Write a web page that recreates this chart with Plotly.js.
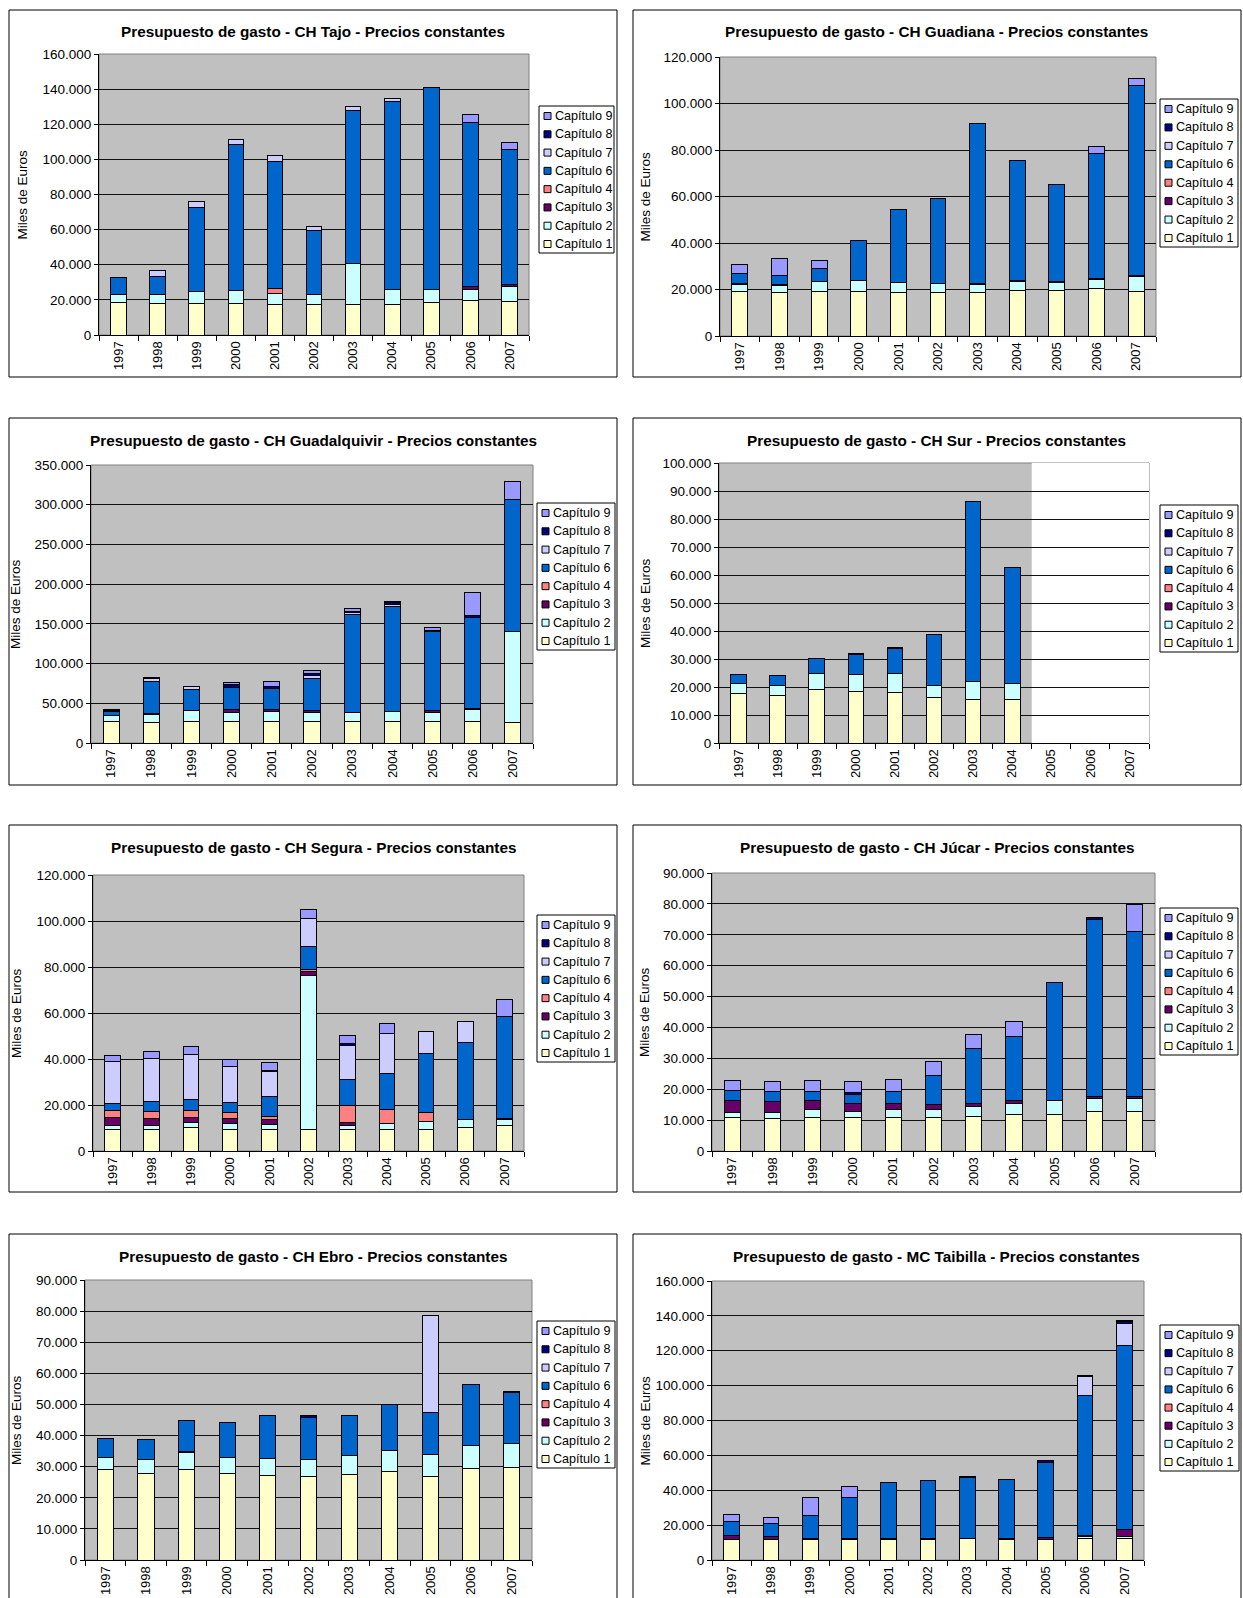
<!DOCTYPE html>
<html>
<head>
<meta charset="utf-8">
<script src="https://cdn.plot.ly/plotly-3.0.1.min.js"></script>
<style>
html,body{margin:0;padding:0;background:#fff;}
#chart{width:1243px;height:1598px;}
</style>
</head>
<body>
<div id="chart"></div>
<script>
// ---------------- DATA (Miles de Euros) ----------------
const years = ['1997','1998','1999','2000','2001','2002','2003','2004','2005','2006','2007'];
const chapters = ['Capítulo 1','Capítulo 2','Capítulo 3','Capítulo 4','Capítulo 6','Capítulo 7','Capítulo 8','Capítulo 9'];
const chapterColors = ['#FFFFCC','#CCFFFF','#660066','#FF8080','#0066CC','#CCCCFF','#000080','#9999FF'];

const titles = [
  'Presupuesto de gasto - CH Tajo - Precios constantes',
  'Presupuesto de gasto - CH Guadiana - Precios constantes',
  'Presupuesto de gasto - CH Guadalquivir - Precios constantes',
  'Presupuesto de gasto - CH Sur - Precios constantes',
  'Presupuesto de gasto - CH Segura - Precios constantes',
  'Presupuesto de gasto - CH Júcar - Precios constantes',
  'Presupuesto de gasto - CH Ebro - Precios constantes',
  'Presupuesto de gasto - MC Taibilla - Precios constantes'
];
const yAxisTitle = 'Miles de Euros';

// rows: Cap1, Cap2, Cap3, Cap4, Cap6, Cap7, Cap8, Cap9
const tajo = [
  [18600,18050,18050,18000,17500,17500,17500,17500,18600,19760,19000],
  [4200,4750,7000,7100,6250,5300,23350,8150,7050,6270,8550],
  [0,0,0,0,0,0,0,0,0,1500,950],
  [0,0,0,0,2850,0,0,0,0,0,0],
  [10200,10450,47700,83600,72400,36500,86800,107350,115150,93500,77000],
  [0,3200,3200,2600,3000,2600,2300,1900,0,0,0],
  [0,0,0,0,0,0,0,0,0,0,0],
  [0,0,0,0,0,0,0,0,0,4800,4200]
];
const guadiana = [
  [19000,18700,19000,19000,18700,18700,18700,19700,19700,20400,19000],
  [3150,2850,4300,4700,4200,3850,3400,3600,3150,3900,6400],
  [400,550,0,0,0,0,400,500,500,600,600],
  [0,0,0,0,0,0,0,0,0,0,0],
  [4400,4050,5700,17500,31700,36650,68750,51900,41950,53400,81800],
  [0,0,0,0,0,0,0,0,0,0,0],
  [0,0,0,0,0,0,0,0,0,0,0],
  [4000,7150,3600,0,0,0,0,0,0,3300,3100]
];
const guadalquivir = [
  [27700,26400,27700,27700,27700,27700,27700,27700,27700,27700,25200],
  [6700,9300,13000,11300,12200,10900,10500,12200,11300,14300,115800],
  [0,1200,0,3400,2900,2900,0,0,2500,1600,0],
  [0,0,0,0,0,0,0,0,0,0,0],
  [5500,40700,26500,28100,26400,39100,123400,132200,99100,114600,166200],
  [0,3000,4100,0,0,4200,2500,2900,0,0,0],
  [700,0,0,2900,2100,2100,1700,2100,1300,1700,0],
  [2200,2100,0,3000,6300,4600,3300,1300,2900,30200,22300]
];
const sur = [
  [17700,17000,19000,18450,18100,16100,15700,15700,null,null,null],
  [3700,3600,5900,6050,6700,4400,6400,5700,null,null,null],
  [0,0,0,0,0,0,0,0,null,null,null],
  [0,0,0,0,0,0,0,0,null,null,null],
  [3200,3400,5200,7000,8800,18200,64000,41300,null,null,null],
  [0,0,0,0,0,0,0,0,null,null,null],
  [0,0,0,500,450,0,0,0,null,null,null],
  [0,0,0,0,0,0,0,0,null,null,null]
];
const segura = [
  [9560,9560,10100,9560,9560,9560,9560,9560,9560,10400,10900],
  [1450,1600,2200,2440,2040,66900,1740,2200,3200,3100,2600],
  [3500,3000,2300,2200,1900,1500,1000,0,0,0,700],
  [3000,2900,3200,2500,1400,1100,7700,6100,4050,0,0],
  [3200,4300,4400,4500,8700,9700,11150,16000,25700,33700,44200],
  [18100,18900,19800,15500,10900,12300,14900,17300,9400,9200,0],
  [0,0,0,0,700,0,700,0,0,0,0],
  [2900,3200,3400,3300,3300,4100,3300,4100,0,0,7500]
];
const jucar = [
  [10800,10600,11000,11000,11000,11000,11300,11700,11900,12750,12750],
  [1800,2000,2300,1750,2500,2500,3100,3750,4400,4350,4350],
  [3800,3300,2900,2700,1800,1700,1050,750,0,400,400],
  [0,0,0,0,0,0,0,0,0,0,0],
  [3200,3300,3200,2950,3900,9200,17850,20900,38400,57600,53600],
  [0,0,0,0,0,0,0,0,0,0,0],
  [0,0,0,500,0,0,0,0,0,500,0],
  [3100,3300,3300,3500,4100,4600,4300,4900,0,0,8600]
];
const ebro = [
  [29000,27700,29000,27700,27200,26900,27400,28500,26900,29450,29700],
  [4000,4600,5400,5300,5500,5400,6300,6600,7050,7250,7600],
  [0,0,400,0,0,0,0,0,0,0,0],
  [0,0,0,0,0,0,0,0,0,0,0],
  [6200,6400,10000,11200,13700,13500,12700,15000,13350,19800,16400],
  [0,0,0,0,0,0,0,0,31400,0,0],
  [0,0,0,0,0,700,0,0,0,0,600],
  [0,0,0,0,0,0,0,0,0,0,0]
];
const taibilla = [
  [11500,11500,11500,11500,11500,11500,12100,11500,11500,12250,12600],
  [0,0,0,0,0,0,0,1100,0,950,1000],
  [2300,1700,1100,600,600,600,500,0,1300,1000,3800],
  [0,0,0,0,0,0,0,0,0,0,0],
  [8400,7500,13000,23700,32300,33500,34500,33300,43100,80000,105900],
  [0,0,0,0,0,0,0,0,0,11100,12400],
  [0,0,0,0,0,0,750,0,1300,700,1000],
  [3800,3400,10000,6300,0,0,0,0,0,0,700]
];
const panelsData = [tajo, guadiana, guadalquivir, sur, segura, jucar, ebro, taibilla];
const yMax  = [160000,120000,350000,100000,120000,90000,90000,160000];
const yStep = [20000,20000,50000,10000,20000,10000,10000,20000];

// ---------------- LAYOUT GEOMETRY (px) ----------------
const W = 1243, H = 1598;
const frames  = [[9,10,617,377],[633,10,1241,377],[9,418,617,785],[633,418,1241,785],
                 [9,825,617,1192],[633,825,1241,1192],[9,1234,617,1600],[633,1234,1241,1600]];
const plots   = [[99,54,529,335],[720,57,1156,336],[91,465,533,743],[719,463,1149,743],
                 [93,875,524,1151],[712,873,1155,1151],[85,1280,532,1560],[712,1281,1144,1560]];
const legends = [[539,106,614,253],[1160,99,1238,247],[537,503,615,650],[1160,505,1238,652],
                 [537,915,615,1062],[1160,908,1238,1055],[537,1321,615,1468],[1160,1325,1239,1471]];
const yTitleX = [22,645,16,645,16,645,16,645];

const px = x => x / W;
const py = y => 1 - y / H;
const FONT = 'Arial, "Liberation Sans", sans-serif';

const traces = [];
const shapes = [];
const annotations = [];
const layout = {
  width: W, height: H,
  margin: {l:0, r:0, t:0, b:0},
  paper_bgcolor: '#ffffff',
  plot_bgcolor: '#C0C0C0',
  barmode: 'stack',
  bargap: 0.6,
  separators: ',.',
  showlegend: false,
  font: {family: FONT, color: '#000'}
};

panelsData.forEach((data, p) => {
  const suf = p === 0 ? '' : String(p + 1);
  const xa = 'x' + suf, ya = 'y' + suf;
  data.forEach((vals, k) => {
    traces.push({
      type: 'bar', x: years, y: vals, name: chapters[k],
      xaxis: xa, yaxis: ya,
      marker: {color: chapterColors[k], line: {color: '#000', width: 1}},
      hoverinfo: 'skip', showlegend: false
    });
  });
  const [l, t, r, b] = plots[p];
  layout['xaxis' + suf] = {
    domain: [px(l), px(r)], anchor: ya, type: 'category',
    showgrid: false, showline: true, linecolor: '#000', linewidth: 1,
    ticks: 'outside', ticklen: 5, tickcolor: '#000', tickson: 'boundaries',
    tickangle: -90, tickfont: {family: FONT, size: 13, color: '#000'},
    fixedrange: true
  };
  layout['yaxis' + suf] = {
    domain: [py(b), py(t)], anchor: xa,
    range: [0, yMax[p]], tick0: 0, dtick: yStep[p],
    tickformat: ',d', showgrid: true, gridcolor: '#111', gridwidth: 1,
    zeroline: false, showline: true, linecolor: '#000', linewidth: 1,
    ticks: 'outside', ticklen: 4, tickcolor: '#000',
    tickfont: {family: FONT, size: 13.5, color: '#000'},
    fixedrange: true
  };
  // panel frame
  const [fl, ft, fr, fb] = frames[p];
  shapes.push({type:'rect', xref:'paper', yref:'paper', x0:px(fl), x1:px(fr), y0:py(fb), y1:py(ft),
               line:{color:'#000', width:1}, fillcolor:'rgba(0,0,0,0)', layer:'above'});
  // plot area border
  shapes.push({type:'rect', xref: xa + ' domain', yref: ya + ' domain', x0:0, x1:1, y0:0, y1:1,
               line:{color:'#808080', width:1}, fillcolor:'rgba(0,0,0,0)', layer:'below'});
  // title
  annotations.push({xref:'paper', yref:'paper', x:px((fl+fr)/2), y:py(ft+22), xanchor:'center', yanchor:'middle',
                    text:'<b>' + titles[p] + '</b>', showarrow:false,
                    font:{family:FONT, size:15.3, color:'#000'}});
  // y axis title
  annotations.push({xref:'paper', yref:'paper', x:px(yTitleX[p]), y:py((t+b)/2), xanchor:'center', yanchor:'middle',
                    text: yAxisTitle, textangle:-90, showarrow:false,
                    font:{family:FONT, size:13.5, color:'#000'}});
  // legend (Capítulo 9 at top ... Capítulo 1 at bottom)
  const [ll, lt, lr, lb] = legends[p];
  shapes.push({type:'rect', xref:'paper', yref:'paper', x0:px(ll), x1:px(lr), y0:py(lb), y1:py(lt),
               line:{color:'#000', width:1}, fillcolor:'#ffffff', layer:'above'});
  const n = chapters.length;
  const step = (lb - lt - 19) / (n - 1);
  for (let i = 0; i < n; i++) {
    const k = n - 1 - i;
    const cy = lt + 10 + i * step;
    shapes.push({type:'rect', xref:'paper', yref:'paper', x0:px(ll+5), x1:px(ll+12), y0:py(cy+3.5), y1:py(cy-3.5),
                 line:{color:'#000', width:1}, fillcolor:chapterColors[k], layer:'above'});
    annotations.push({xref:'paper', yref:'paper', x:px(ll+13.5), y:py(cy), xanchor:'left', yanchor:'middle',
                      text: chapters[k], showarrow:false, font:{family:FONT, size:12.6, color:'#000'}});
  }
});

// Sur: plot area background is white for the years without data
shapes.push({type:'rect', xref:'x4', yref:'y4', x0:7.5, x1:10.5, y0:0, y1:yMax[3],
             line:{width:0}, fillcolor:'#ffffff', layer:'below'});

layout.shapes = shapes;
layout.annotations = annotations;

Plotly.newPlot('chart', traces, layout, {staticPlot: true, displayModeBar: false});
</script>
</body>
</html>
